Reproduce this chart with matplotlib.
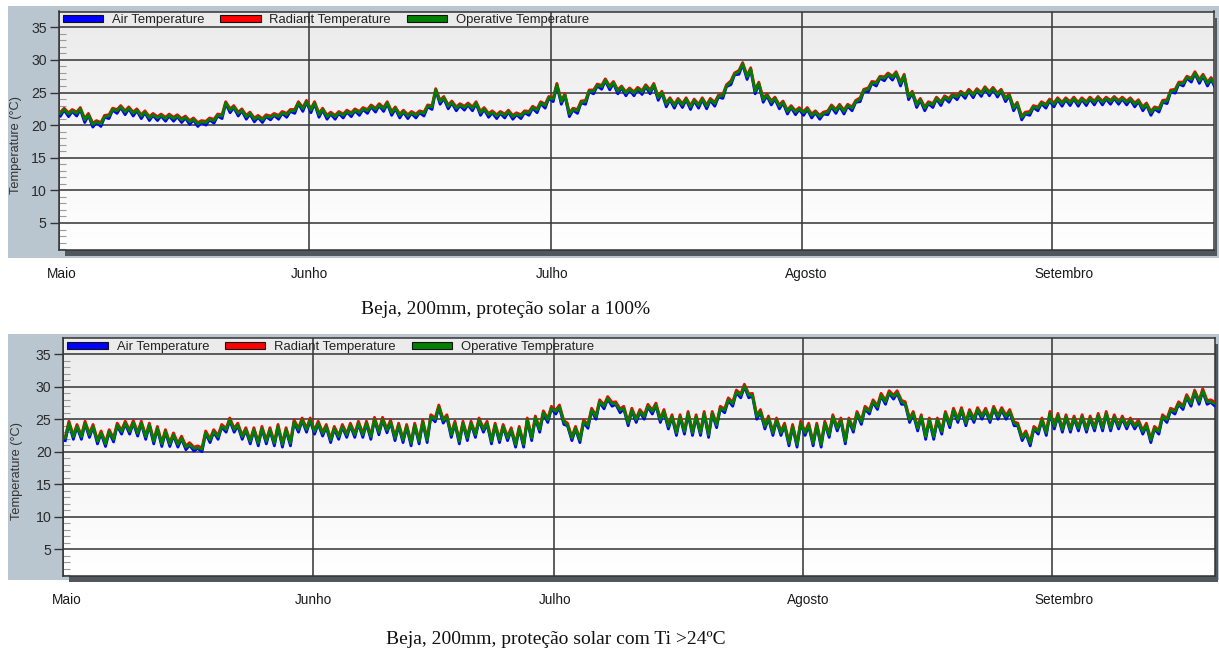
import numpy as np
import matplotlib
matplotlib.use("Agg")
import matplotlib.pyplot as plt
from matplotlib.patches import Rectangle, Patch
from matplotlib.colors import LinearSegmentedColormap
from matplotlib.ticker import FixedLocator
from matplotlib.transforms import ScaledTranslation

plt.rcParams['font.family'] = ['Liberation Sans', 'DejaVu Sans']

# ---------------- data ----------------
months = ["Maio", "Junho", "Julho", "Agosto", "Setembro"]
month_start_day = [0, 31, 61, 92, 123]          # days after 1 May
y_ticks = [5, 10, 15, 20, 25, 30, 35]
series_names = ["Air Temperature", "Radiant Temperature", "Operative Temperature"]
series_colors = ["#0000ff", "#ff0000", "#008000"]
captions = ["Beja, 200mm, proteção solar a 100%",
            "Beja, 200mm, proteção solar com Ti >24ºC"]

# daily (night minimum, afternoon maximum) pairs, day 0 = 1 May
top_air = [
    21.4, 22.3, 21.3, 22.1, 21.4, 22.4, 20.4, 21.5, 19.7, 20.4, 19.8, 21.2, 21.0, 22.3, 21.8, 22.7, 21.6, 22.5, 21.4, 22.2,
    21.0, 21.9, 20.7, 21.5, 20.7, 21.4, 20.6, 21.4, 20.6, 21.3, 20.4, 21.1, 20.1, 20.8, 19.8, 20.4, 20.0, 20.8, 20.3, 21.4,
    21.0, 23.3, 21.9, 22.7, 21.4, 22.2, 20.9, 21.7, 20.5, 21.2, 20.4, 21.3, 20.8, 21.5, 20.9, 21.8, 21.2, 22.1, 21.8, 23.3,
    22.1, 23.5, 21.9, 23.3, 21.2, 22.3, 20.9, 21.7, 20.9, 21.8, 21.1, 22.0, 21.3, 22.2, 21.5, 22.4, 21.8, 22.8, 22.0, 23.0,
    22.1, 23.3, 21.5, 22.5, 21.1, 22.0, 21.0, 21.8, 21.1, 21.9, 21.4, 22.8, 22.4, 25.3, 23.2, 24.1, 22.5, 23.4, 22.2, 23.0,
    22.3, 23.1, 22.2, 23.3, 21.5, 22.4, 21.2, 21.9, 21.0, 21.8, 21.1, 22.0, 20.9, 21.6, 21.0, 21.9, 21.5, 22.6, 21.9, 23.3,
    22.6, 24.1, 23.6, 26.1, 23.2, 24.5, 21.3, 22.3, 21.8, 23.4, 23.2, 25.1, 24.8, 26.0, 25.5, 26.8, 25.4, 26.4, 24.8, 25.7,
    24.5, 25.4, 24.5, 25.5, 24.7, 25.9, 24.8, 26.1, 23.8, 24.9, 22.8, 23.9, 22.6, 23.8, 22.7, 23.9, 22.4, 23.7, 22.6, 23.9,
    22.5, 23.8, 22.9, 24.3, 24.1, 25.9, 26.2, 27.7, 27.8, 29.3, 27.0, 28.5, 24.8, 26.3, 23.5, 24.5, 23.1, 24.0, 22.5, 23.4,
    21.7, 22.7, 21.6, 22.4, 21.5, 22.4, 21.1, 21.9, 20.9, 21.7, 21.6, 22.8, 21.8, 22.9, 21.7, 22.9, 22.2, 23.5, 23.6, 25.2,
    25.1, 26.4, 26.0, 27.2, 26.8, 27.7, 26.9, 27.9, 26.0, 27.5, 23.9, 24.9, 22.7, 23.8, 22.2, 23.3, 22.7, 24.0, 23.0, 24.2,
    23.5, 24.5, 23.9, 24.9, 24.1, 25.2, 24.2, 25.3, 24.4, 25.6, 24.5, 25.5, 24.3, 25.2, 23.6, 24.5, 22.2, 23.2, 20.8, 21.7,
    21.5, 22.7, 22.2, 23.3, 22.6, 23.7, 22.8, 23.9, 22.9, 23.9, 23.0, 24.0, 22.9, 23.9, 23.0, 24.0, 23.1, 24.1, 23.1, 24.0,
    23.2, 24.1, 23.2, 24.0, 23.1, 23.9, 22.8, 23.6, 22.2, 23.1, 21.5, 22.5, 22.0, 23.5, 23.3, 25.1, 24.9, 26.3, 26.0, 27.2,
    26.6, 27.9, 26.4, 27.5, 26.0, 27.0, 25.6, 26.1,
]
top_rad = [
    22.0, 22.6, 21.9, 22.4, 22.0, 22.7, 21.0, 21.8, 20.3, 20.7, 20.4, 21.5, 21.6, 22.6, 22.4, 23.0, 22.2, 22.8, 22.0, 22.5,
    21.6, 22.2, 21.3, 21.8, 21.3, 21.7, 21.2, 21.7, 21.2, 21.6, 21.0, 21.4, 20.7, 21.1, 20.4, 20.7, 20.6, 21.1, 20.9, 21.7,
    21.6, 23.6, 22.5, 23.0, 22.0, 22.5, 21.5, 22.0, 21.1, 21.5, 21.0, 21.6, 21.4, 21.8, 21.5, 22.1, 21.8, 22.4, 22.4, 23.6,
    22.7, 23.8, 22.5, 23.6, 21.8, 22.6, 21.5, 22.0, 21.5, 22.1, 21.7, 22.3, 21.9, 22.5, 22.1, 22.7, 22.4, 23.1, 22.6, 23.3,
    22.7, 23.6, 22.1, 22.8, 21.7, 22.3, 21.6, 22.1, 21.7, 22.2, 22.0, 23.1, 23.0, 25.6, 23.8, 24.4, 23.1, 23.7, 22.8, 23.3,
    22.9, 23.4, 22.8, 23.6, 22.1, 22.7, 21.8, 22.2, 21.6, 22.1, 21.7, 22.3, 21.5, 21.9, 21.6, 22.2, 22.1, 22.9, 22.5, 23.6,
    23.2, 24.4, 24.2, 26.4, 23.8, 24.8, 21.9, 22.6, 22.4, 23.7, 23.8, 25.4, 25.4, 26.3, 26.1, 27.1, 26.0, 26.7, 25.4, 26.0,
    25.1, 25.7, 25.1, 25.8, 25.3, 26.2, 25.4, 26.4, 24.4, 25.2, 23.4, 24.2, 23.2, 24.1, 23.3, 24.2, 23.0, 24.0, 23.2, 24.2,
    23.1, 24.1, 23.5, 24.6, 24.7, 26.2, 26.8, 28.0, 28.4, 29.6, 27.6, 28.8, 25.4, 26.6, 24.1, 24.8, 23.7, 24.3, 23.1, 23.7,
    22.3, 23.0, 22.2, 22.7, 22.1, 22.7, 21.7, 22.2, 21.5, 22.0, 22.2, 23.1, 22.4, 23.2, 22.3, 23.2, 22.8, 23.8, 24.2, 25.5,
    25.7, 26.7, 26.6, 27.5, 27.4, 28.0, 27.5, 28.2, 26.6, 27.8, 24.5, 25.2, 23.3, 24.1, 22.8, 23.6, 23.3, 24.3, 23.6, 24.5,
    24.1, 24.8, 24.5, 25.2, 24.7, 25.5, 24.8, 25.6, 25.0, 25.9, 25.1, 25.8, 24.9, 25.5, 24.2, 24.8, 22.8, 23.5, 21.4, 22.0,
    22.1, 23.0, 22.8, 23.6, 23.2, 24.0, 23.4, 24.2, 23.5, 24.2, 23.6, 24.3, 23.5, 24.2, 23.6, 24.3, 23.7, 24.4, 23.7, 24.3,
    23.8, 24.4, 23.8, 24.3, 23.7, 24.2, 23.4, 23.9, 22.8, 23.4, 22.1, 22.8, 22.6, 23.8, 23.9, 25.4, 25.5, 26.6, 26.6, 27.5,
    27.2, 28.2, 27.0, 27.8, 26.6, 27.3, 26.2, 26.4,
]
top_op = [
    21.8, 22.4, 21.7, 22.2, 21.8, 22.5, 20.8, 21.6, 20.1, 20.5, 20.2, 21.3, 21.4, 22.4, 22.2, 22.8, 22.0, 22.6, 21.8, 22.3,
    21.4, 22.0, 21.1, 21.6, 21.1, 21.5, 21.0, 21.5, 21.0, 21.4, 20.8, 21.2, 20.5, 20.9, 20.2, 20.5, 20.4, 20.9, 20.7, 21.5,
    21.4, 23.4, 22.3, 22.8, 21.8, 22.3, 21.3, 21.8, 20.9, 21.3, 20.8, 21.4, 21.2, 21.6, 21.3, 21.9, 21.6, 22.2, 22.2, 23.4,
    22.5, 23.6, 22.3, 23.4, 21.6, 22.4, 21.3, 21.8, 21.3, 21.9, 21.5, 22.1, 21.7, 22.3, 21.9, 22.5, 22.2, 22.9, 22.4, 23.1,
    22.5, 23.4, 21.9, 22.6, 21.5, 22.1, 21.4, 21.9, 21.5, 22.0, 21.8, 22.9, 22.8, 25.4, 23.6, 24.2, 22.9, 23.5, 22.6, 23.1,
    22.7, 23.2, 22.6, 23.4, 21.9, 22.5, 21.6, 22.0, 21.4, 21.9, 21.5, 22.1, 21.3, 21.7, 21.4, 22.0, 21.9, 22.7, 22.3, 23.4,
    23.0, 24.2, 24.0, 26.2, 23.6, 24.6, 21.7, 22.4, 22.2, 23.5, 23.6, 25.2, 25.2, 26.1, 25.9, 26.9, 25.8, 26.5, 25.2, 25.8,
    24.9, 25.5, 24.9, 25.6, 25.1, 26.0, 25.2, 26.2, 24.2, 25.0, 23.2, 24.0, 23.0, 23.9, 23.1, 24.0, 22.8, 23.8, 23.0, 24.0,
    22.9, 23.9, 23.3, 24.4, 24.5, 26.0, 26.6, 27.8, 28.2, 29.4, 27.4, 28.6, 25.2, 26.4, 23.9, 24.6, 23.5, 24.1, 22.9, 23.5,
    22.1, 22.8, 22.0, 22.5, 21.9, 22.5, 21.5, 22.0, 21.3, 21.8, 22.0, 22.9, 22.2, 23.0, 22.1, 23.0, 22.6, 23.6, 24.0, 25.3,
    25.5, 26.5, 26.4, 27.3, 27.2, 27.8, 27.3, 28.0, 26.4, 27.6, 24.3, 25.0, 23.1, 23.9, 22.6, 23.4, 23.1, 24.1, 23.4, 24.3,
    23.9, 24.6, 24.3, 25.0, 24.5, 25.3, 24.6, 25.4, 24.8, 25.7, 24.9, 25.6, 24.7, 25.3, 24.0, 24.6, 22.6, 23.3, 21.2, 21.8,
    21.9, 22.8, 22.6, 23.4, 23.0, 23.8, 23.2, 24.0, 23.3, 24.0, 23.4, 24.1, 23.3, 24.0, 23.4, 24.1, 23.5, 24.2, 23.5, 24.1,
    23.6, 24.2, 23.6, 24.1, 23.5, 24.0, 23.2, 23.7, 22.6, 23.2, 21.9, 22.6, 22.4, 23.6, 23.7, 25.2, 25.3, 26.4, 26.4, 27.3,
    27.0, 28.0, 26.8, 27.6, 26.4, 27.1, 26.0, 26.2,
]
bot_air = [
    21.7, 24.3, 21.9, 23.8, 21.9, 24.3, 22.2, 23.8, 21.2, 22.8, 20.8, 23.0, 21.5, 24.0, 22.7, 24.3, 22.7, 24.4, 22.4, 24.3,
    21.9, 24.0, 21.2, 23.5, 20.8, 23.0, 20.8, 22.5, 20.7, 22.0, 20.3, 21.0, 20.1, 20.5, 20.0, 22.8, 21.4, 23.0, 21.9, 23.8,
    23.0, 24.8, 23.0, 24.0, 21.9, 23.3, 21.2, 23.3, 20.9, 23.5, 21.2, 23.3, 20.9, 23.8, 20.7, 23.3, 20.9, 24.5, 23.0, 24.8,
    23.0, 24.8, 22.7, 24.3, 22.4, 23.8, 21.4, 23.5, 21.9, 23.8, 22.2, 24.0, 22.2, 24.3, 22.2, 24.3, 21.9, 24.9, 22.6, 24.9,
    22.9, 24.5, 21.7, 24.0, 21.4, 23.8, 20.9, 24.0, 21.2, 24.5, 21.4, 25.3, 24.6, 26.8, 24.4, 25.3, 22.2, 24.3, 21.2, 24.3,
    21.7, 24.3, 22.2, 24.8, 23.0, 24.3, 21.2, 24.0, 21.4, 23.8, 21.7, 23.3, 20.7, 23.5, 20.7, 24.8, 21.7, 25.1, 23.0, 25.9,
    24.5, 26.6, 25.8, 26.8, 24.2, 24.0, 21.7, 23.5, 21.4, 24.5, 23.6, 26.3, 25.0, 27.6, 26.6, 28.1, 27.0, 27.3, 26.0, 26.6,
    24.0, 26.3, 24.5, 26.1, 25.0, 26.9, 25.8, 27.1, 24.5, 26.1, 23.5, 25.3, 22.5, 25.3, 22.7, 25.8, 22.5, 25.3, 22.5, 25.8,
    22.2, 25.8, 23.7, 26.6, 26.0, 27.9, 27.0, 29.1, 28.3, 30.0, 28.3, 28.6, 25.0, 26.1, 23.5, 25.1, 22.5, 24.8, 22.5, 24.0,
    20.9, 23.8, 20.7, 24.3, 22.5, 24.0, 20.9, 24.0, 20.7, 24.3, 22.2, 25.3, 23.2, 24.8, 21.2, 24.8, 23.0, 25.8, 24.2, 26.6,
    25.8, 27.6, 26.5, 28.6, 27.3, 29.0, 28.1, 29.0, 27.3, 27.3, 24.5, 25.8, 23.2, 25.3, 21.9, 24.8, 21.9, 24.8, 22.7, 25.8,
    23.7, 26.3, 24.5, 26.4, 24.0, 26.1, 24.5, 26.4, 25.0, 26.3, 24.5, 26.6, 25.0, 26.4, 25.0, 26.1, 24.0, 24.0, 21.7, 22.8,
    20.9, 23.5, 22.7, 24.8, 22.5, 25.8, 23.5, 25.5, 23.0, 25.3, 23.0, 25.1, 23.2, 25.3, 23.0, 25.1, 23.2, 25.5, 23.2, 25.8,
    23.2, 25.3, 23.5, 25.1, 23.5, 24.8, 23.5, 24.5, 22.7, 24.0, 21.4, 23.5, 22.7, 25.3, 24.5, 26.3, 25.8, 27.3, 26.5, 28.4,
    27.0, 29.1, 27.3, 29.3, 27.3, 27.6, 27.0, 27.5,
]
bot_rad = [
    22.3, 24.7, 22.5, 24.2, 22.5, 24.7, 22.8, 24.2, 21.8, 23.2, 21.4, 23.4, 22.1, 24.4, 23.3, 24.7, 23.3, 24.8, 23.0, 24.7,
    22.5, 24.4, 21.8, 23.9, 21.4, 23.4, 21.4, 22.9, 21.3, 22.4, 20.9, 21.4, 20.7, 20.9, 20.6, 23.2, 22.0, 23.4, 22.5, 24.2,
    23.6, 25.2, 23.6, 24.4, 22.5, 23.7, 21.8, 23.7, 21.5, 23.9, 21.8, 23.7, 21.5, 24.2, 21.3, 23.7, 21.5, 24.9, 23.6, 25.2,
    23.6, 25.2, 23.3, 24.7, 23.0, 24.2, 22.0, 23.9, 22.5, 24.2, 22.8, 24.4, 22.8, 24.7, 22.8, 24.7, 22.5, 25.3, 23.2, 25.3,
    23.5, 24.9, 22.3, 24.4, 22.0, 24.2, 21.5, 24.4, 21.8, 24.9, 22.0, 25.7, 25.2, 27.2, 25.0, 25.7, 22.8, 24.7, 21.8, 24.7,
    22.3, 24.7, 22.8, 25.2, 23.6, 24.7, 21.8, 24.4, 22.0, 24.2, 22.3, 23.7, 21.3, 23.9, 21.3, 25.2, 22.3, 25.5, 23.6, 26.3,
    25.1, 27.0, 26.4, 27.2, 24.8, 24.4, 22.3, 23.9, 22.0, 24.9, 24.2, 26.7, 25.6, 28.0, 27.2, 28.5, 27.6, 27.7, 26.6, 27.0,
    24.6, 26.7, 25.1, 26.5, 25.6, 27.3, 26.4, 27.5, 25.1, 26.5, 24.1, 25.7, 23.1, 25.7, 23.3, 26.2, 23.1, 25.7, 23.1, 26.2,
    22.8, 26.2, 24.3, 27.0, 26.6, 28.3, 27.6, 29.5, 28.9, 30.4, 28.9, 29.0, 25.6, 26.5, 24.1, 25.5, 23.1, 25.2, 23.1, 24.4,
    21.5, 24.2, 21.3, 24.7, 23.1, 24.4, 21.5, 24.4, 21.3, 24.7, 22.8, 25.7, 23.8, 25.2, 21.8, 25.2, 23.6, 26.2, 24.8, 27.0,
    26.4, 28.0, 27.1, 29.0, 27.9, 29.4, 28.7, 29.4, 27.9, 27.7, 25.1, 26.2, 23.8, 25.7, 22.5, 25.2, 22.5, 25.2, 23.3, 26.2,
    24.3, 26.7, 25.1, 26.8, 24.6, 26.5, 25.1, 26.8, 25.6, 26.7, 25.1, 27.0, 25.6, 26.8, 25.6, 26.5, 24.6, 24.4, 22.3, 23.2,
    21.5, 23.9, 23.3, 25.2, 23.1, 26.2, 24.1, 25.9, 23.6, 25.7, 23.6, 25.5, 23.8, 25.7, 23.6, 25.5, 23.8, 25.9, 23.8, 26.2,
    23.8, 25.7, 24.1, 25.5, 24.1, 25.2, 24.1, 24.9, 23.3, 24.4, 22.0, 23.9, 23.3, 25.7, 25.1, 26.7, 26.4, 27.7, 27.1, 28.8,
    27.6, 29.5, 27.9, 29.7, 27.9, 28.0, 27.6, 27.9,
]
bot_op = [
    22.1, 24.4, 22.3, 23.9, 22.3, 24.4, 22.6, 23.9, 21.6, 22.9, 21.2, 23.1, 21.9, 24.1, 23.1, 24.4, 23.1, 24.5, 22.8, 24.4,
    22.3, 24.1, 21.6, 23.6, 21.2, 23.1, 21.2, 22.6, 21.1, 22.1, 20.7, 21.1, 20.5, 20.6, 20.4, 22.9, 21.8, 23.1, 22.3, 23.9,
    23.4, 24.9, 23.4, 24.1, 22.3, 23.4, 21.6, 23.4, 21.3, 23.6, 21.6, 23.4, 21.3, 23.9, 21.1, 23.4, 21.3, 24.6, 23.4, 24.9,
    23.4, 24.9, 23.1, 24.4, 22.8, 23.9, 21.8, 23.6, 22.3, 23.9, 22.6, 24.1, 22.6, 24.4, 22.6, 24.4, 22.3, 25.0, 23.0, 25.0,
    23.3, 24.6, 22.1, 24.1, 21.8, 23.9, 21.3, 24.1, 21.6, 24.6, 21.8, 25.4, 25.0, 26.9, 24.8, 25.4, 22.6, 24.4, 21.6, 24.4,
    22.1, 24.4, 22.6, 24.9, 23.4, 24.4, 21.6, 24.1, 21.8, 23.9, 22.1, 23.4, 21.1, 23.6, 21.1, 24.9, 22.1, 25.2, 23.4, 26.0,
    24.9, 26.7, 26.2, 26.9, 24.6, 24.1, 22.1, 23.6, 21.8, 24.6, 24.0, 26.4, 25.4, 27.7, 27.0, 28.2, 27.4, 27.4, 26.4, 26.7,
    24.4, 26.4, 24.9, 26.2, 25.4, 27.0, 26.2, 27.2, 24.9, 26.2, 23.9, 25.4, 22.9, 25.4, 23.1, 25.9, 22.9, 25.4, 22.9, 25.9,
    22.6, 25.9, 24.1, 26.7, 26.4, 28.0, 27.4, 29.2, 28.7, 30.1, 28.7, 28.7, 25.4, 26.2, 23.9, 25.2, 22.9, 24.9, 22.9, 24.1,
    21.3, 23.9, 21.1, 24.4, 22.9, 24.1, 21.3, 24.1, 21.1, 24.4, 22.6, 25.4, 23.6, 24.9, 21.6, 24.9, 23.4, 25.9, 24.6, 26.7,
    26.2, 27.7, 26.9, 28.7, 27.7, 29.1, 28.5, 29.1, 27.7, 27.4, 24.9, 25.9, 23.6, 25.4, 22.3, 24.9, 22.3, 24.9, 23.1, 25.9,
    24.1, 26.4, 24.9, 26.5, 24.4, 26.2, 24.9, 26.5, 25.4, 26.4, 24.9, 26.7, 25.4, 26.5, 25.4, 26.2, 24.4, 24.1, 22.1, 22.9,
    21.3, 23.6, 23.1, 24.9, 22.9, 25.9, 23.9, 25.6, 23.4, 25.4, 23.4, 25.2, 23.6, 25.4, 23.4, 25.2, 23.6, 25.6, 23.6, 25.9,
    23.6, 25.4, 23.9, 25.2, 23.9, 24.9, 23.9, 24.6, 23.1, 24.1, 21.8, 23.6, 23.1, 25.4, 24.9, 26.4, 26.2, 27.4, 26.9, 28.5,
    27.4, 29.2, 27.7, 29.4, 27.7, 27.7, 27.4, 27.6,
]

# ---------------- layout (pixel geometry of the reference) ----------------
W, H = 1219, 657
fig = plt.figure(figsize=(W / 100, H / 100), dpi=100)


def fx(p):
    return p / W


def fy(p):
    return 1 - p / H


panels = [
    dict(series=(top_air, top_rad, top_op), bg=(8, 5.7, 1219, 258),
         box=(58.5, 11.5, 1214, 250), ylim=(0.86, 37.42), xmax=143.06,
         legend_y=20, caption=captions[0], cap_xy=(506, 309), ylab_xy=(16, 145)),
    dict(series=(bot_air, bot_rad, bot_op), bg=(8, 334, 1219, 580),
         box=(63.3, 338.3, 1215, 576), ylim=(0.85, 37.47), xmax=143.23,
         legend_y=347, caption=captions[1], cap_xy=(556, 640), ylab_xy=(17, 471)),
]
label_shift_px = [3, 1, 1, 5, 12]
bg_cmap = LinearSegmentedColormap.from_list("bg", ["#ebebeb", "#ffffff"])
minor_pos = [v for v in range(1, 35) if v % 5]

for p in panels:
    x0, y0, x1, y1 = p["bg"]
    fig.patches.append(Rectangle((fx(x0), fy(y1)), fx(x1) - fx(x0), fy(y0) - fy(y1),
                                 transform=fig.transFigure, facecolor="#b9c6d0",
                                 edgecolor="none", zorder=0))
    bx0, by0, bx1, by1 = p["box"]
    fig.patches.append(Rectangle((fx(bx0 + 6), fy(by1 + 6)), fx(bx1 + 3) - fx(bx0 + 6),
                                 fy(by0 + 6) - fy(by1 + 6), transform=fig.transFigure,
                                 facecolor="#51575d", edgecolor="none", zorder=1))
    ax = fig.add_axes([fx(bx0), fy(by1), fx(bx1) - fx(bx0), fy(by0) - fy(by1)], zorder=2)
    ylo, yhi = p["ylim"]
    ax.set_xlim(0, p["xmax"])
    ax.set_ylim(ylo, yhi)
    grad = np.linspace(0, 1, 256).reshape(-1, 1)
    ax.imshow(grad, cmap=bg_cmap, extent=(0, p["xmax"], ylo, yhi), aspect="auto",
              origin="upper", zorder=0)

    for vals, col in zip(p["series"], series_colors):
        nd = len(vals) // 2
        t = (np.repeat(np.arange(nd), 2) + np.tile([0.25, 0.7], nd))
        ax.plot(t, vals, color=col, lw=2.0, zorder=3, solid_joinstyle="round")

    ax.set_axisbelow(True)
    ax.set_yticks(y_ticks)
    ax.set_xticks(month_start_day)
    ax.set_xticklabels(months)
    ax.yaxis.set_minor_locator(FixedLocator(minor_pos))
    ax.grid(True, which="major", color="#3a3a3a", lw=1.15)
    ax.tick_params(axis="x", length=0, pad=12, labelsize=9.8, labelcolor="#1a1a1a")
    ax.tick_params(axis="y", which="major", direction="out", length=6.5, width=1,
                   color="#333333", labelsize=10.2, pad=2, labelcolor="#2a2a2a")
    ax.tick_params(axis="y", which="minor", direction="in", length=5, width=0.8,
                   color="#9a9a9a")
    for lbl, s in zip(ax.get_xticklabels(), label_shift_px):
        lbl.set_transform(lbl.get_transform() + ScaledTranslation(s / 100, 0, fig.dpi_scale_trans))
    for sp in ax.spines.values():
        sp.set_color("#333333")
        sp.set_linewidth(1.1)

    handles = [Patch(facecolor=c, edgecolor="#111111", linewidth=0.8) for c in series_colors]
    leg = ax.legend(handles, series_names, loc="center left",
                    bbox_to_anchor=(fx(bx0 + 4), fy(p["legend_y"])),
                    bbox_transform=fig.transFigure, ncol=3, frameon=False,
                    fontsize=9.4, handlelength=3.1, handleheight=0.45,
                    handletextpad=0.67, columnspacing=1.22, borderpad=0,
                    borderaxespad=0)
    for txt in leg.get_texts():
        txt.set_color("#222222")

    fig.text(fx(p["ylab_xy"][0]), fy(p["ylab_xy"][1]), "Temperature (°C)", rotation=90,
             ha="center", va="center", fontsize=9.2, color="#333333")
    fig.text(fx(p["cap_xy"][0]), fy(p["cap_xy"][1]), p["caption"],
             family=["Liberation Serif", "DejaVu Serif"], fontsize=14,
             ha="center", va="center", color="#111111")

fig.savefig("out.png", dpi=100)
